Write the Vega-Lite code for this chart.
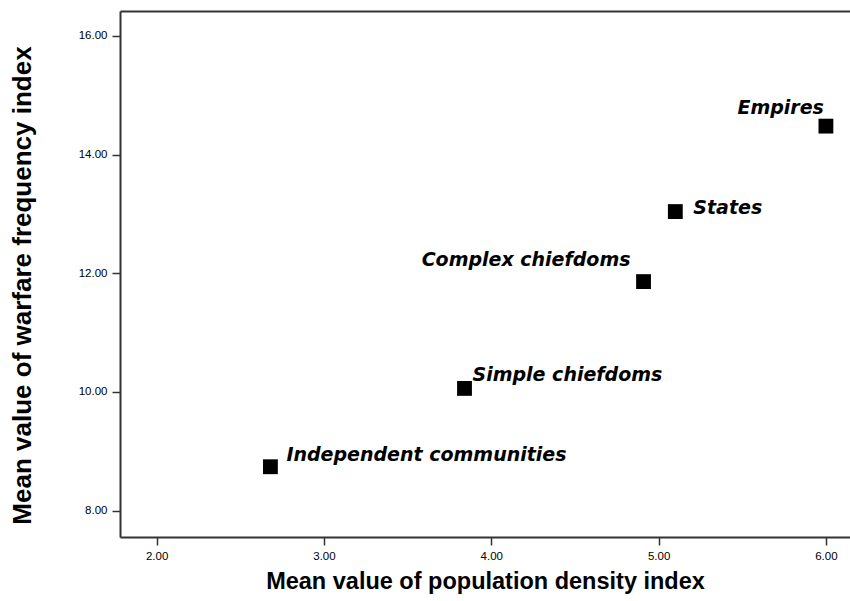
{
  "$schema": "https://vega.github.io/schema/vega-lite/v6.json",
  "width": 730,
  "height": 526,
  "autosize": {"type": "none"},
  "padding": {"left": 120, "top": 11, "right": 0, "bottom": 64},
  "background": "white",
  "config": {
    "view": {"stroke": null},
    "axis": {
      "labelFont": "Liberation Sans",
      "labelFontSize": 11.5,
      "labelColor": "#000",
      "domainColor": "#333",
      "domainWidth": 2,
      "tickColor": "#333",
      "tickWidth": 1.5,
      "tickSize": 8,
      "grid": false,
      "titleFont": "Liberation Sans",
      "titleFontWeight": "bold",
      "titleFontSize": 23.5,
      "titleColor": "#000"
    }
  },
  "data": {
    "values": [
      {"label": "Independent communities", "density": 2.68, "warfare": 8.74},
      {"label": "Simple chiefdoms", "density": 3.84, "warfare": 10.06},
      {"label": "Complex chiefdoms", "density": 4.91, "warfare": 11.86},
      {"label": "States", "density": 5.10, "warfare": 13.04},
      {"label": "Empires", "density": 6.00, "warfare": 14.48}
    ]
  },
  "encoding": {
    "x": {"field": "density", "type": "quantitative", "scale": {"domain": [1.781, 6.144], "nice": false, "zero": false}, "axis": null},
    "y": {"field": "warfare", "type": "quantitative", "scale": {"domain": [7.556, 16.42], "nice": false, "zero": false}, "axis": {"orient": "left", "values": [8, 10, 12, 14, 16], "format": ".2f", "title": "Mean value of warfare frequency index", "labelPadding": 5, "titlePadding": 43, "titleFontSize": 26, "titleY": 274}}
  },
  "layer": [
    {
      "mark": {"type": "point", "shape": "square", "filled": true, "color": "#000", "size": 220, "opacity": 1},
      "encoding": {
        "x": {"field": "density", "type": "quantitative", "scale": {"domain": [1.781, 6.144], "nice": false, "zero": false}, "axis": {"orient": "bottom", "values": [2, 3, 4, 5, 6], "format": ".2f", "title": "Mean value of population density index", "labelPadding": 5, "titlePadding": 8}}
      }
    },
    {
      "mark": {"type": "text", "font": "DejaVu Sans", "fontWeight": "bold", "fontStyle": "italic", "fontSize": 19, "align": "left", "baseline": "middle", "dx": 16, "dy": -12, "color": "#000"},
      "transform": [{"filter": "datum.label === 'Independent communities'"}],
      "encoding": {
        "text": {"field": "label"},
        "x": {"field": "density", "type": "quantitative", "scale": {"domain": [1.781, 6.144], "nice": false, "zero": false}, "axis": {"orient": "top", "labels": false, "ticks": false, "title": null, "domainWidth": 2}}
      }
    },
    {
      "mark": {"type": "text", "font": "DejaVu Sans", "fontWeight": "bold", "fontStyle": "italic", "fontSize": 19, "align": "left", "baseline": "middle", "dx": 8, "dy": -13, "color": "#000"},
      "transform": [{"filter": "datum.label === 'Simple chiefdoms'"}],
      "encoding": {"text": {"field": "label"}}
    },
    {
      "mark": {"type": "text", "font": "DejaVu Sans", "fontWeight": "bold", "fontStyle": "italic", "fontSize": 19, "align": "right", "baseline": "middle", "dx": -13, "dy": -22, "color": "#000"},
      "transform": [{"filter": "datum.label === 'Complex chiefdoms'"}],
      "encoding": {"text": {"field": "label"}}
    },
    {
      "mark": {"type": "text", "font": "DejaVu Sans", "fontWeight": "bold", "fontStyle": "italic", "fontSize": 19, "align": "left", "baseline": "middle", "dx": 18, "dy": -4, "color": "#000"},
      "transform": [{"filter": "datum.label === 'States'"}],
      "encoding": {"text": {"field": "label"}}
    },
    {
      "mark": {"type": "text", "font": "DejaVu Sans", "fontWeight": "bold", "fontStyle": "italic", "fontSize": 19, "align": "right", "baseline": "middle", "dx": -2, "dy": -18, "color": "#000"},
      "transform": [{"filter": "datum.label === 'Empires'"}],
      "encoding": {"text": {"field": "label"}}
    }
  ],
  "resolve": {"axis": {"x": "independent"}}
}
